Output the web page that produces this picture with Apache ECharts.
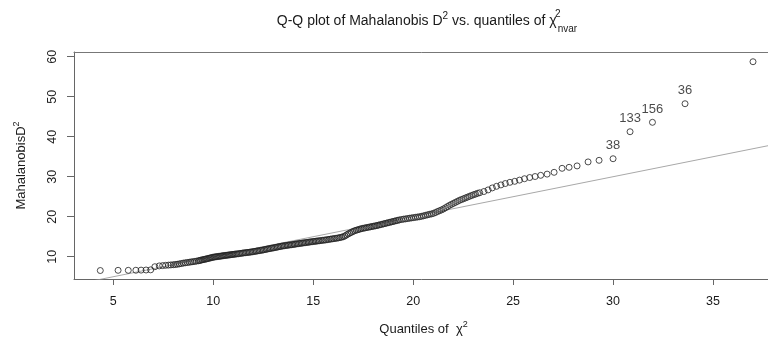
<!DOCTYPE html>
<html>
<head>
<meta charset="utf-8">
<title>Q-Q plot of Mahalanobis D2</title>
<script src="https://cdn.jsdelivr.net/npm/echarts@6/dist/echarts.min.js"></script>
<style>
  html, body { margin: 0; padding: 0; background: #fff; }
  #chart { width: 768px; height: 339px; }
</style>
</head>
<body>
<div id="chart"></div>
<script>
// [chi-square quantile, sorted Mahalanobis D^2]
const lowTail = [[4.35, 6.55], [5.24, 6.6], [5.75, 6.6], [6.13, 6.62], [6.39, 6.65], [6.64, 6.68], [6.87, 6.72]]

const bandA = [
  [7.08, 7.5], [7.3, 7.7], [7.47, 7.78], [7.62, 7.85], [7.76, 7.9], [7.88, 7.95], [8.0, 8.0],
  [8.1, 8.05], [8.2, 8.12], [8.3, 8.2], [8.4, 8.3], [8.5, 8.4], [8.6, 8.48], [8.7, 8.55],
  [8.8, 8.62], [8.89, 8.7], [8.98, 8.75], [9.07, 8.82], [9.16, 8.9], [9.26, 8.98]
]

const bandB = [
  [9.31, 9.05], [9.37, 9.12], [9.43, 9.2], [9.49, 9.26], [9.55, 9.33], [9.61, 9.4], [9.67, 9.46],
  [9.73, 9.55], [9.79, 9.62], [9.85, 9.7], [9.91, 9.76], [9.97, 9.85], [10.03, 9.9], [10.09, 9.95],
  [10.15, 10.0], [10.21, 10.04], [10.27, 10.08], [10.33, 10.12], [10.39, 10.16], [10.45, 10.22],
  [10.51, 10.26], [10.57, 10.3], [10.63, 10.34], [10.69, 10.38], [10.75, 10.42], [10.81, 10.46],
  [10.87, 10.5], [10.93, 10.55], [10.99, 10.58], [11.05, 10.62], [11.11, 10.66], [11.18, 10.7],
  [11.25, 10.74], [11.32, 10.8], [11.39, 10.85], [11.46, 10.9], [11.53, 10.95], [11.6, 11.0],
  [11.67, 11.04], [11.74, 11.08]
]

const bandC = [
  [11.81, 11.12], [11.88, 11.17], [11.95, 11.22], [12.02, 11.28], [12.09, 11.34], [12.16, 11.4],
  [12.23, 11.46], [12.3, 11.52], [12.37, 11.58], [12.44, 11.64], [12.51, 11.71], [12.58, 11.78],
  [12.65, 11.86], [12.72, 11.93], [12.79, 12.0], [12.86, 12.07], [12.93, 12.14], [13.0, 12.2],
  [13.07, 12.27], [13.14, 12.34], [13.21, 12.42], [13.28, 12.49], [13.35, 12.56], [13.42, 12.62],
  [13.49, 12.7], [13.56, 12.75], [13.63, 12.8], [13.7, 12.85], [13.77, 12.9], [13.84, 12.95],
  [13.91, 13.0], [13.98, 13.05], [14.05, 13.1], [14.12, 13.16], [14.19, 13.22], [14.26, 13.27],
  [14.33, 13.32], [14.4, 13.37], [14.47, 13.42], [14.54, 13.47], [14.61, 13.52], [14.68, 13.57],
  [14.75, 13.62], [14.82, 13.67], [14.89, 13.72], [14.96, 13.77], [15.03, 13.82], [15.1, 13.86],
  [15.17, 13.9], [15.24, 13.95], [15.31, 14.0]
]

const bandD = [
  [15.39, 14.05], [15.47, 14.1], [15.55, 14.15], [15.63, 14.2], [15.71, 14.27], [15.79, 14.34],
  [15.87, 14.4], [15.95, 14.46], [16.03, 14.52], [16.11, 14.58], [16.19, 14.64], [16.27, 14.72],
  [16.35, 14.8], [16.43, 14.9], [16.51, 15.0], [16.59, 15.2], [16.67, 15.45], [16.75, 15.7],
  [16.83, 15.9], [16.91, 16.1], [16.99, 16.3], [17.07, 16.5], [17.15, 16.62], [17.23, 16.74],
  [17.31, 16.86], [17.39, 16.98], [17.47, 17.08], [17.55, 17.16], [17.63, 17.24], [17.71, 17.32],
  [17.79, 17.4], [17.87, 17.48], [17.95, 17.56], [18.03, 17.64], [18.11, 17.72], [18.19, 17.8],
  [18.27, 17.9], [18.35, 18.0], [18.43, 18.1], [18.51, 18.2], [18.59, 18.3], [18.67, 18.4],
  [18.75, 18.5], [18.83, 18.6], [18.91, 18.7], [18.99, 18.8], [19.07, 18.9], [19.15, 19.0],
  [19.23, 19.1], [19.31, 19.2]
]

const bandE = [
  [19.42, 19.3], [19.52, 19.4], [19.62, 19.45], [19.72, 19.55], [19.82, 19.62], [19.92, 19.7],
  [20.02, 19.78], [20.12, 19.85], [20.22, 19.93], [20.32, 20.0], [20.42, 20.1], [20.52, 20.22],
  [20.62, 20.35], [20.72, 20.48], [20.82, 20.6], [20.92, 20.7], [21.02, 20.85], [21.12, 21.05],
  [21.22, 21.3], [21.32, 21.5], [21.42, 21.7], [21.52, 21.95], [21.62, 22.25], [21.72, 22.55],
  [21.82, 22.85], [21.92, 23.1], [22.02, 23.35], [22.12, 23.6], [22.22, 23.85], [22.32, 24.1],
  [22.42, 24.3], [22.52, 24.5], [22.62, 24.7], [22.72, 24.9], [22.82, 25.1], [22.92, 25.3],
  [23.02, 25.5], [23.12, 25.65], [23.22, 25.85], [23.33, 26.0]
]

const bandF = [
  [23.54, 26.3], [23.75, 26.7], [23.96, 27.2], [24.17, 27.6], [24.39, 27.95], [24.61, 28.3],
  [24.84, 28.6], [25.08, 28.85], [25.32, 29.15], [25.57, 29.5], [25.83, 29.8], [26.1, 30.05],
  [26.38, 30.35]
]

const highTail = [[26.7, 30.65], [27.05, 31.1], [27.45, 32.1], [27.8, 32.35], [28.2, 32.7], [28.75, 33.7], [29.3, 34.1]]

// labelled outliers: [quantile, D^2, case id]
const flagged = [[30.0, 34.5, '38'], [30.85, 41.25, '133'], [31.97, 43.6, '156'], [33.6, 48.25, '36'], [37.0, 58.75, '161']]

// reference line y = x
const refLine = [[3, 3], [38, 38]]

const xTicks = [5, 10, 15, 20, 25, 30, 35]
const yTicks = [10, 20, 30, 40, 50, 60]
const xRange = [3.035, 38]
const yRange = [4.43, 61.18]

const FONT = 'Liberation Sans, Arial, sans-serif'
const INK = '#1a1a1a'

const chart = echarts.init(document.getElementById('chart'))

const points = [].concat(lowTail, bandA, bandB, bandC, bandD, bandE, bandF, highTail)

const option = {
  animation: false,
  backgroundColor: '#fff',
  title: {
    text: 'Q-Q plot of Mahalanobis D{sup|2} vs. quantiles of χ{sup2|2}{sub|nvar}',
    left: 427,
    top: 8,
    padding: 0,
    textAlign: 'center',
    textStyle: {
      fontFamily: FONT,
      fontSize: 14,
      fontWeight: 'normal',
      color: INK,
      lineHeight: 26,
      rich: {
        sup: { fontFamily: FONT, fontSize: 10, lineHeight: 10, color: INK, verticalAlign: 'top', padding: [3, 0, 0, 0] },
        sup2: { fontFamily: FONT, fontSize: 10, lineHeight: 10, color: INK, verticalAlign: 'top', padding: [1, 0, 0, 1], width: 0.1 },
        sub: { fontFamily: FONT, fontSize: 10, lineHeight: 10, color: INK, verticalAlign: 'bottom' }
      }
    }
  },
  grid: {
    left: 74,
    right: -5,
    top: 52,
    bottom: 60,
    containLabel: false,
    outerBoundsMode: 'none'
  },
  xAxis: [
    {
      type: 'value',
      min: xRange[0],
      max: xRange[1],
      name: 'Quantiles of  χ{sup|2}',
      nameLocation: 'middle',
      nameGap: 41,
      nameMoveOverlap: false,
      nameTextStyle: {
        fontFamily: FONT,
        fontSize: 13,
        color: INK,
        lineHeight: 18,
        rich: {
          sup: { fontFamily: FONT, fontSize: 9, lineHeight: 9, color: INK, verticalAlign: 'top' }
        }
      },
      axisLine: { show: true, lineStyle: { color: '#666', width: 1 } },
      axisTick: { show: true, length: 6, customValues: xTicks, lineStyle: { color: '#666' } },
      axisLabel: { customValues: xTicks, margin: 16, fontFamily: FONT, fontSize: 12.5, color: INK },
      splitLine: { show: false }
    },
    {
      type: 'value',
      position: 'top',
      min: xRange[0],
      max: xRange[1],
      axisLine: { show: true, lineStyle: { color: '#777', width: 1 } },
      axisTick: { show: false },
      axisLabel: { show: false },
      splitLine: { show: false }
    }
  ],
  yAxis: {
    type: 'value',
    min: yRange[0],
    max: yRange[1],
    name: 'MahalanobisD{sup|2}',
    nameLocation: 'middle',
    nameGap: 44,
    nameMoveOverlap: false,
    nameTextStyle: {
      fontFamily: FONT,
      fontSize: 13,
      color: INK,
      lineHeight: 18,
      rich: {
        sup: { fontFamily: FONT, fontSize: 9, lineHeight: 9, color: INK, verticalAlign: 'top' }
      }
    },
    axisLine: { show: true, lineStyle: { color: '#666', width: 1 } },
    axisTick: { show: true, length: 7, customValues: yTicks, lineStyle: { color: '#666' } },
    axisLabel: { customValues: yTicks, rotate: 90, margin: 15, fontFamily: FONT, fontSize: 12.5, color: INK },
    splitLine: { show: false }
  },
  series: [
    {
      type: 'line',
      data: refLine,
      symbol: 'none',
      silent: true,
      z: 1,
      lineStyle: { color: '#a8a8a8', width: 1 }
    },
    {
      type: 'scatter',
      data: points,
      symbol: 'circle',
      symbolSize: 6,
      z: 2,
      itemStyle: { color: 'rgba(0,0,0,0)', borderColor: '#222', borderWidth: 1 }
    },
    {
      type: 'scatter',
      data: flagged.map(d => ({
        value: [d[0], d[1]],
        name: d[2],
        label: { show: d[2] !== '161' }
      })),
      symbol: 'circle',
      symbolSize: 6,
      z: 3,
      itemStyle: { color: 'rgba(0,0,0,0)', borderColor: '#222', borderWidth: 1 },
      label: {
        show: true,
        position: 'top',
        distance: 3,
        formatter: '{b}',
        fontFamily: FONT,
        fontSize: 13,
        color: INK
      }
    }
  ]
}

chart.setOption(option)
</script>
</body>
</html>
